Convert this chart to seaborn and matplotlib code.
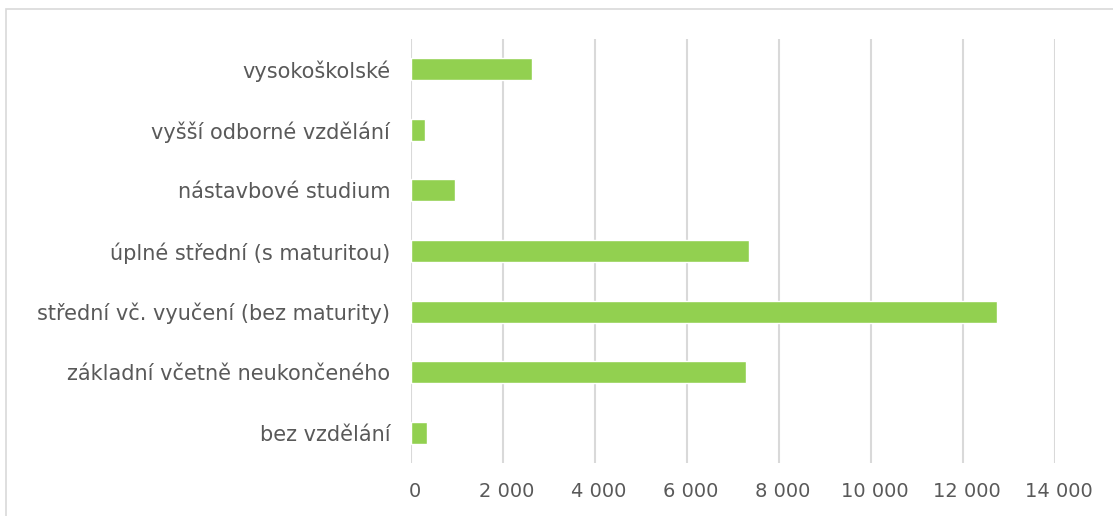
import matplotlib
matplotlib.use("Agg")
import matplotlib.pyplot as plt
import matplotlib.ticker as mticker
import matplotlib.transforms as mtransforms
import seaborn as sns
import pandas as pd

sns.set_theme(style="white")
plt.rcParams['font.family'] = ['DejaVu Sans']

kategorie = [
    "vysokoškolské",
    "vyšší odborné vzdělání",
    "nástavbové studium",
    "úplné střední (s maturitou)",
    "střední vč. vyučení (bez maturity)",
    "základní včetně neukončeného",
    "bez vzdělání",
]
pocty = [2630, 300, 950, 7350, 12740, 7280, 340]
x_ticks = [0, 2000, 4000, 6000, 8000, 10000, 12000, 14000]

df = pd.DataFrame({"Vzdělání": kategorie, "Počet": pocty})

fig = plt.figure(figsize=(11.13, 5.16), dpi=100)
ax = fig.add_axes([411 / 1113, 1 - 463 / 516, (1055 - 411) / 1113, (463 - 39) / 516])

sns.barplot(data=df, y="Vzdělání", x="Počet", color="#92D050", width=0.364,
            saturation=1, ax=ax, zorder=3)

ax.set_xlim(0, 14000)
ax.set_xticks(x_ticks)
ax.xaxis.set_major_formatter(mticker.FuncFormatter(lambda v, p: f"{int(v):,}".replace(",", " ")))
ax.grid(axis="x", color="#D9D9D9", linewidth=1.5, zorder=0)
ax.grid(axis="y", visible=False)
for s in ["top", "right", "bottom", "left"]:
    ax.spines[s].set_visible(False)
ax.set_xlabel("")
ax.set_ylabel("")
ax.tick_params(axis="y", length=0, pad=15, labelsize=15, labelcolor="#595959")
ax.tick_params(axis="x", length=0, pad=14, labelsize=14, labelcolor="#595959")

# popisky osy x jsou v originale kousek vpravo
posun = mtransforms.ScaledTranslation(4 / 100, 0, fig.dpi_scale_trans)
for lbl in ax.get_xticklabels():
    lbl.set_transform(lbl.get_transform() + posun)

# ramecek grafu
fig.patches.append(plt.Rectangle((6 / 1113, -0.1), 1.2, 1 - 9 / 516 + 0.1,
                                 transform=fig.transFigure, fill=False,
                                 edgecolor="#D9D9D9", linewidth=1.2))

fig.savefig("out.png", dpi=100)
